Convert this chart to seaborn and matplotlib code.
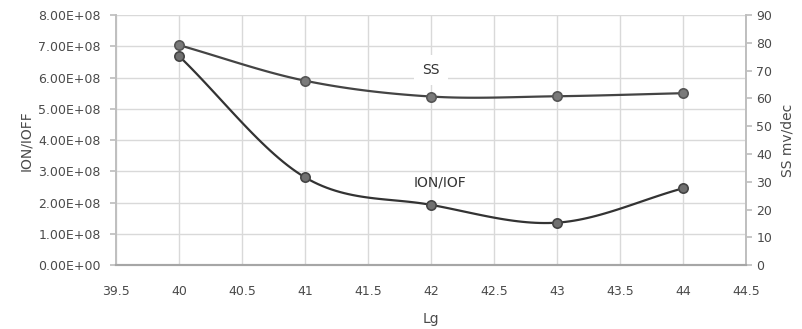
import numpy as np
import pandas as pd
import seaborn as sns
import matplotlib.pyplot as plt
from matplotlib.ticker import FuncFormatter

# data
lg = [40, 41, 42, 43, 44]
ion_ioff = [6.69e8, 2.81e8, 1.93e8, 1.36e8, 2.46e8]
ss = [79.2, 66.4, 60.7, 60.8, 61.9]
x_ticks = ["39.5", "40", "40.5", "41", "41.5", "42", "42.5", "43", "43.5", "44", "44.5"]


def smooth(x, y, n=30):
    # Catmull-Rom curve through the points, like Excel's "smoothed line"
    x = np.asarray(x, float)
    y = np.asarray(y, float)
    px = np.r_[2 * x[0] - x[1], x, 2 * x[-1] - x[-2]]
    py = np.r_[2 * y[0] - y[1], y, 2 * y[-1] - y[-2]]
    xs, ys = [], []
    t = np.linspace(0, 1, n)
    for i in range(1, len(px) - 2):
        for p, out in ((px, xs), (py, ys)):
            p0, p1, p2, p3 = p[i - 1], p[i], p[i + 1], p[i + 2]
            out.extend(0.5 * (2 * p1 + (-p0 + p2) * t
                              + (2 * p0 - 5 * p1 + 4 * p2 - p3) * t ** 2
                              + (-p0 + 3 * p1 - 3 * p2 + p3) * t ** 3))
    return pd.DataFrame({"x": xs, "y": ys})


sns.set_theme(style="white")
plt.rcParams["font.family"] = ["DejaVu Sans"]
grey = "#4a4a4a"

fig = plt.figure(figsize=(8.03, 3.29), dpi=100)
ax = fig.add_axes([0.1445, 0.194, 0.7845, 0.76])
ax2 = ax.twinx()

d1 = smooth(lg, ion_ioff)
sns.lineplot(data=d1, x="x", y="y", ax=ax, color="#333333", lw=1.6, sort=False, zorder=3)
sns.scatterplot(x=lg, y=ion_ioff, ax=ax, color="#707070", edgecolor="#444444",
                linewidth=1.2, s=45, zorder=4)

d2 = smooth(lg, ss)
sns.lineplot(data=d2, x="x", y="y", ax=ax2, color="#444444", lw=1.6, sort=False, zorder=3)
sns.scatterplot(x=lg, y=ss, ax=ax2, color="#7a7a7a", edgecolor="#555555",
                linewidth=1.2, s=45, zorder=4)

ax.set_xlim(39.5, 44.5)
ax.set_ylim(0, 8e8)
ax2.set_ylim(0, 90)
ax.set_xticks(np.arange(39.5, 44.51, 0.5))
ax.set_xticklabels(x_ticks)
ax.set_yticks(np.arange(0, 8.01e8, 1e8))
ax.yaxis.set_major_formatter(FuncFormatter(lambda v, p: "%.2fE+08" % (v / 1e8) if v > 0 else "0.00E+00"))
ax2.set_yticks(np.arange(0, 91, 10))

ax.grid(True, color="#d9d9d9", lw=1.0)
ax.set_axisbelow(True)
for a in (ax, ax2):
    a.spines["top"].set_visible(False)
    a.spines["left"].set_color("#bfbfbf")
    a.spines["right"].set_color("#bfbfbf")
    a.spines["bottom"].set_color("#a6a6a6")
    a.spines["bottom"].set_linewidth(1.5)
    a.tick_params(colors=grey, labelsize=9, length=4, color="#bfbfbf")
ax.tick_params(axis="y", pad=7)
ax.tick_params(axis="x", length=4, pad=10)

ax.set_xlabel("Lg", color=grey, fontsize=10, labelpad=10)
ax.set_ylabel("ION/IOFF", color=grey, fontsize=10, labelpad=4)
ax2.set_ylabel("SS mv/dec", color=grey, fontsize=10, labelpad=6)

ax2.text(42.0, 70.2, "SS", ha="center", va="center", fontsize=10, color="#333333",
         bbox=dict(facecolor="white", edgecolor="none", pad=6), zorder=5)
ax.text(42.07, 2.65e8, "ION/IOF", ha="center", va="center", fontsize=10, color="#333333")

fig.savefig("out.png", dpi=100)
